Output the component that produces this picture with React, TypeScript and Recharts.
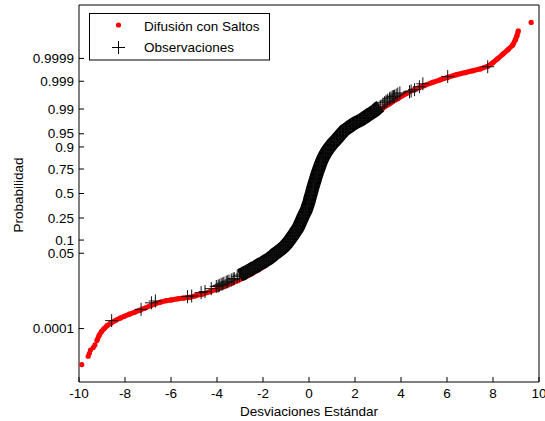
import React from "react";
import { ScatterChart, Scatter, XAxis, YAxis } from "recharts";

// x axis: standard deviations
const xTicks = [-10, -8, -6, -4, -2, 0, 2, 4, 6, 8, 10];

// y axis: probability labels and their normal quantiles (normplot scale)
const probLabels = ["0.0001", "0.05", "0.1", "0.25", "0.5", "0.75", "0.9", "0.95", "0.99", "0.999", "0.9999"];
const probTicks = [-3.719, -1.645, -1.2816, -0.6745, 0, 0.6745, 1.2816, 1.645, 2.3263, 3.0902, 3.719];

const seriesNames = ["Difusión con Saltos", "Observaciones"];

// jump diffusion model, [x, z] — loose dots at both ends
const modelLowTail = [
  [-9.88, -4.71], [-9.6, -4.48], [-9.55, -4.4], [-9.5, -4.31], [-9.38, -4.24], [-9.31, -4.17],
];
const modelHighTail = [
  [9.08, 4.43], [9.1, 4.48], [9.66, 4.71],
];

// jump diffusion model, dense part
const modelBody = [
  [-9.22, -4.05], [-9.12, -3.9], [-9.02, -3.8], [-8.91, -3.72], [-8.78, -3.64], [-8.62, -3.57],
  [-8.4, -3.49], [-8.2, -3.43], [-8.03, -3.38], [-7.8, -3.32], [-7.58, -3.27], [-7.38, -3.22],
  [-7.15, -3.16], [-6.9, -3.09], [-6.7, -3.04], [-6.45, -2.99], [-6.2, -2.95], [-6.0, -2.93],
  [-5.7, -2.9], [-5.45, -2.88], [-5.2, -2.86], [-4.95, -2.82], [-4.63, -2.77], [-4.3, -2.7],
  [-3.98, -2.63], [-3.7, -2.56], [-3.4, -2.48], [-3.11, -2.4], [-2.8, -2.31], [-2.5, -2.21],
  [-2.2, -2.1], [-1.9, -1.98], [-1.6, -1.82], [-1.3, -1.62], [-1.0, -1.46], [-0.75, -1.28],
  [-0.5, -1.02], [-0.3, -0.72], [-0.12, -0.4], [0.02, -0.1], [0.15, 0.2], [0.28, 0.5],
  [0.45, 0.8], [0.65, 1.06], [0.9, 1.28], [1.2, 1.48], [1.55, 1.67], [1.9, 1.82],
  [2.3, 1.98], [2.77, 2.15], [3.21, 2.35], [3.5, 2.47], [3.86, 2.61],
  [4.23, 2.75], [4.6, 2.87], [5.0, 2.97], [5.38, 3.06], [5.7, 3.13], [6.03, 3.2],
  [6.4, 3.27], [6.8, 3.33], [7.12, 3.38], [7.45, 3.43], [7.77, 3.5], [7.99, 3.6],
  [8.2, 3.71], [8.43, 3.84], [8.65, 3.96], [8.86, 4.09], [8.98, 4.24], [9.05, 4.36],
];

// observed returns, [x, z]
const observations = [
  [-8.58, -3.5], [-7.3, -3.19], [-6.85, -3.01], [-6.68, -2.96], [-5.28, -2.84], [-5.1, -2.82],
  [-4.69, -2.73], [-4.52, -2.7], [-4.25, -2.62], [-4.03, -2.56], [-3.95, -2.55], [-3.9, -2.53],
  [-3.82, -2.5], [-3.75, -2.49], [-3.7, -2.47], [-3.6, -2.44], [-3.55, -2.43], [-3.48, -2.41],
  [-3.38, -2.38], [-3.3, -2.36], [-3.25, -2.34], [-3.12, -2.29],
  [-3.02, -2.25], [-2.9, -2.22], [-2.8, -2.18], [-2.7, -2.15], [-2.6, -2.12], [-2.5, -2.08],
  [-2.4, -2.04], [-2.3, -2.01], [-2.2, -1.97], [-2.1, -1.93], [-2.0, -1.9], [-1.9, -1.86],
  [-1.8, -1.82], [-1.72, -1.79], [-1.62, -1.74], [-1.54, -1.7], [-1.46, -1.65], [-1.36, -1.61],
  [-1.26, -1.56], [-1.16, -1.51], [-1.06, -1.45], [-0.96, -1.38], [-0.86, -1.3], [-0.76, -1.21],
  [-0.66, -1.12], [-0.57, -1.03], [-0.48, -0.95], [-0.4, -0.84], [-0.33, -0.74], [-0.26, -0.64],
  [-0.19, -0.55], [-0.12, -0.46], [-0.06, -0.35], [0.0, -0.23], [0.05, -0.11], [0.1, 0.0],
  [0.15, 0.12], [0.2, 0.23], [0.26, 0.35], [0.31, 0.46], [0.37, 0.58], [0.44, 0.7],
  [0.5, 0.81], [0.57, 0.92], [0.66, 1.04], [0.76, 1.15], [0.88, 1.26], [1.03, 1.38],
  [1.15, 1.46], [1.28, 1.55], [1.41, 1.65], [1.54, 1.74], [1.7, 1.81], [1.85, 1.88],
  [2.0, 1.94], [2.15, 1.99], [2.3, 2.04], [2.49, 2.12], [2.62, 2.18], [2.75, 2.23],
  [2.87, 2.28], [2.99, 2.35], [3.1, 2.4], [3.21, 2.46], [3.28, 2.5], [3.35, 2.54],
  [3.42, 2.57], [3.5, 2.61], [3.56, 2.63], [3.62, 2.66], [3.67, 2.67], [3.72, 2.68],
  [3.79, 2.71], [3.86, 2.74], [3.95, 2.77], [4.37, 2.8], [4.44, 2.82], [4.59, 2.86],
  [4.8, 2.94], [4.95, 3.02], [6.03, 3.22], [7.77, 3.49],
];

// where the crosses pile up into a solid band
const denseFrom = -3.1;
const denseTo = 3.15;

const toPts = (arr: number[][]) => arr.map(([x, z]) => ({ x, z }));
const obsDense = observations.filter(([x]) => x >= denseFrom && x <= denseTo);
const obsSparse = observations.filter(([x]) => x < denseFrom || x > denseTo);

const FONT = '"Liberation Sans", Arial, Helvetica, sans-serif';
const FS = 13.5;

const Dot = (p: any) => <circle cx={p.cx} cy={p.cy} r={2.6} fill="#ff0000" />;
const Cross = (p: any) => (
  <path d={`M${p.cx - 6.5},${p.cy}h13M${p.cx},${p.cy - 6.5}v13`} stroke="#111" strokeWidth={1} fill="none" />
);

const BottomTick = (p: any) => (
  <g>
    <line x1={p.x} y1={p.y} x2={p.x} y2={p.y - 5} stroke="#000" />
    <text x={p.x} y={p.y + 16} textAnchor="middle" fontSize={FS} fontFamily={FONT} fill="#000">
      {p.payload.value}
    </text>
  </g>
);
const TopTick = (p: any) => <line x1={p.x} y1={p.y} x2={p.x} y2={p.y + 5} stroke="#000" />;
const LeftTick = (p: any) => (
  <g>
    <line x1={p.x} y1={p.y} x2={p.x + 5} y2={p.y} stroke="#000" />
    <text x={p.x - 5} y={p.y} dy="0.35em" textAnchor="end" fontSize={FS} fontFamily={FONT} fill="#000">
      {probLabels[probTicks.indexOf(p.payload.value)]}
    </text>
  </g>
);
const RightTick = (p: any) => <line x1={p.x} y1={p.y} x2={p.x - 5} y2={p.y} stroke="#000" />;

const YTitle = (p: any) => {
  const vb = p.viewBox || { x: 0, y: 5, width: 79, height: 377 };
  const cx = vb.x + 18;
  const cy = vb.y + vb.height / 2 + 1.5;
  return (
    <text x={cx} y={cy} transform={`rotate(-90 ${cx} ${cy})`} textAnchor="middle" dy="0.35em"
      fontSize={FS} fontFamily={FONT} fill="#000">
      Probabilidad
    </text>
  );
};

export default function App() {
  const yDomain = [-5.19, 5.19];
  return (
    <div style={{ position: "relative", width: 545, height: 421, background: "#fff" }}>
      <style>{"body{margin:0}"}</style>
      <ScatterChart width={545} height={421} margin={{ top: 0, right: 0, bottom: 0, left: 0 }}>
        <XAxis
          type="number" dataKey="x" domain={[-10, 10]} ticks={xTicks} height={39}
          tickSize={0} tickMargin={0} tickLine={false} tick={BottomTick}
          axisLine={{ stroke: "#000" }} interval={0}
          label={{ value: "Desviaciones Estándar", position: "insideBottom", offset: 5, fontSize: FS, fontFamily: FONT, fill: "#000" }}
        />
        <XAxis
          xAxisId="top" orientation="top" type="number" domain={[-10, 10]} ticks={xTicks} height={5}
          tickSize={0} tickMargin={0} tickLine={false} tick={TopTick} axisLine={{ stroke: "#000" }} interval={0}
        />
        <YAxis
          type="number" dataKey="z" domain={yDomain} ticks={probTicks} width={79}
          tickSize={0} tickMargin={0} tickLine={false} tick={LeftTick}
          axisLine={{ stroke: "#000" }} interval={0} label={{ content: YTitle }}
        />
        <YAxis
          yAxisId="right" orientation="right" type="number" domain={yDomain} ticks={probTicks} width={6}
          tickSize={0} tickMargin={0} tickLine={false} tick={RightTick} axisLine={{ stroke: "#000" }} interval={0}
        />
        <Scatter name={seriesNames[0]} data={toPts(modelBody)} shape={Dot}
          line={{ stroke: "#ff0000", strokeWidth: 5 }} lineType="joint" isAnimationActive={false} />
        <Scatter name={seriesNames[0]} data={toPts(modelLowTail)} shape={Dot} isAnimationActive={false} />
        <Scatter name={seriesNames[0]} data={toPts(modelHighTail)} shape={Dot} isAnimationActive={false} />
        <Scatter name={seriesNames[1]} data={toPts(obsDense)} shape={Cross}
          line={{ stroke: "#000", strokeWidth: 13, strokeLinecap: "butt", strokeLinejoin: "round" }} lineType="joint" isAnimationActive={false} />
        <Scatter name={seriesNames[1]} data={toPts(obsSparse)} shape={Cross} isAnimationActive={false} />
      </ScatterChart>

      <svg width={545} height={421} style={{ position: "absolute", left: 0, top: 0, pointerEvents: "none" }}>
        <rect x={89.5} y={13.5} width={180} height={46.5} fill="#fff" stroke="#000" />
        <circle cx={118.5} cy={25} r={2.6} fill="#ff0000" />
        <text x={144} y={30.5} fontSize={FS} fontFamily={FONT} fill="#000">{seriesNames[0]}</text>
        <path d="M112,47.5h13M118.5,41v13" stroke="#000" fill="none" />
        <text x={144} y={52} fontSize={FS} fontFamily={FONT} fill="#000">{seriesNames[1]}</text>
      </svg>
    </div>
  );
}
